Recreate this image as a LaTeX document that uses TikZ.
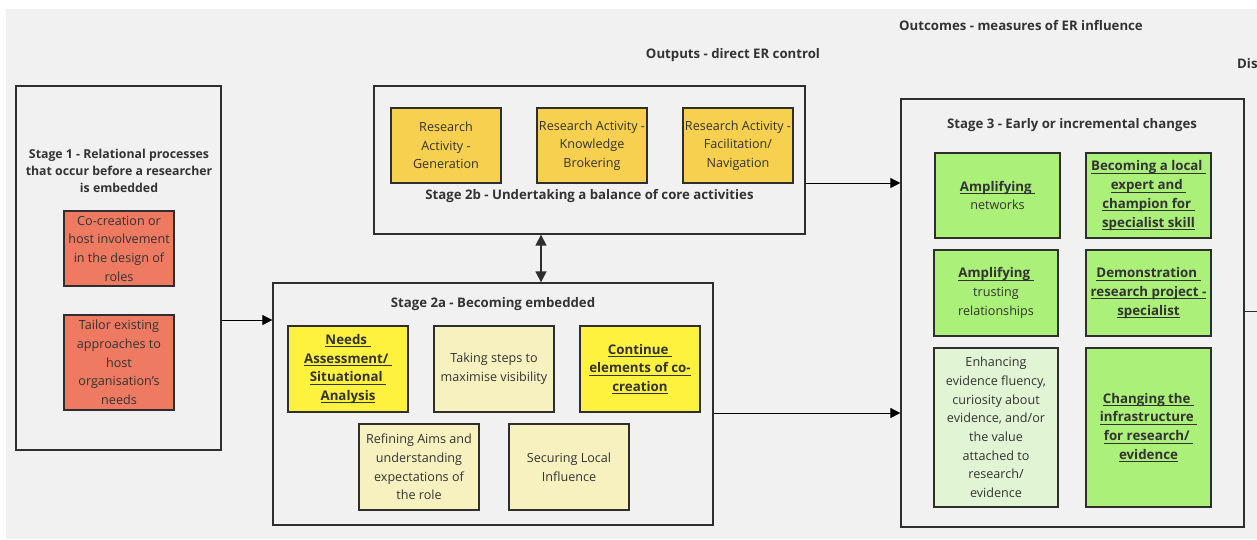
\documentclass[tikz,border=0pt]{standalone}
\usepackage{fontspec}
\setmainfont{Open Sans}
\newcommand\myul[1]{\leavevmode\setbox0\hbox{#1}\rlap{\rule[-2.6pt]{\wd0}{0.7pt}}\box0}
\usetikzlibrary{arrows.meta,calc}
\definecolor{bg}{HTML}{F1F1F1}
\definecolor{edge}{HTML}{2E2E2E}
\definecolor{ink}{HTML}{333333}
\definecolor{redc}{HTML}{EE7A62}
\definecolor{goldc}{HTML}{F6D04E}
\definecolor{yelc}{HTML}{FFF23F}
\definecolor{paley}{HTML}{F6F1BF}
\definecolor{greenc}{HTML}{ABF078}
\definecolor{paleg}{HTML}{E1F4D3}
\begin{document}
\begin{tikzpicture}[x=1pt,y=-1pt,
  container/.style={draw=edge,line width=1.3pt,fill=bg,inner sep=0pt},
  card/.style={draw=edge,line width=1.1pt,inner sep=0pt,align=center,
    font=\fontsize{12.6}{18.7}\selectfont,text=ink},
  boldcard/.style={card,font=\bfseries\fontsize{13.3}{18.7}\selectfont},
  ttl/.style={font=\bfseries\fontsize{13.2}{17}\selectfont,text=ink,align=center,inner sep=0pt},
  arr/.style={-{Triangle[length=10pt,width=10pt]},line width=0.8pt,black},
  dblarr/.style={{Triangle[length=11pt,width=11pt]}-{Triangle[length=11pt,width=11pt]},line width=1.4pt,edge},
]
\useasboundingbox (0,0) rectangle (1257,539);
\clip (0,0) rectangle (1257,539);
\fill[white] (0,0) rectangle (1257,539);
\fill[bg] (6,9) rectangle (1257,539);

% headings
\node[ttl] (outputs) at (733,55) {Outputs - direct ER control};
\node[ttl] (outcomes) at (1021,26) {Outcomes - measures of ER influence};
\node[ttl,anchor=west] (dis) at (1237,64) {Dis};

% Stage 1
\node[container,minimum width=205pt,minimum height=364pt] (s1) at (118.5,268) {};
\node[ttl,font=\bfseries\fontsize{12.3}{16.8}\selectfont] (s1t) at (119,171) {Stage 1 - Relational processes\\that occur before a researcher\\is embedded};
\node[card,fill=redc,minimum width=110pt,minimum height=75pt] (r1) at (119,248.5)
  {Co-creation or\\host involvement\\in the design of\\roles};
\node[card,fill=redc,minimum width=110pt,minimum height=95pt] (r2) at (119,362.5)
  {Tailor existing\\approaches to\\host\\organisation{\char"0027}s\\needs};

% Stage 2b
\node[container,minimum width=431pt,minimum height=148pt] (s2b) at (589.5,160) {};
\node[card,fill=goldc,minimum width=110pt,minimum height=75pt] (g1) at (446,145.5)
  {Research\\Activity -\\Generation};
\node[card,fill=goldc,minimum width=110pt,minimum height=75pt] (g2) at (592,145.5)
  {Research Activity -\\Knowledge\\Brokering};
\node[card,fill=goldc,minimum width=110pt,minimum height=75pt] (g3) at (738,145.5)
  {Research Activity -\\Facilitation/\\Navigation};
\node[ttl] (s2bt) at (589.5,196) {Stage 2b - Undertaking a balance of core activities};

% Stage 2a
\node[container,minimum width=440pt,minimum height=242pt] (s2a) at (493,404) {};
\node[ttl] (s2at) at (493,304) {Stage 2a - Becoming embedded};
\node[boldcard,fill=yelc,minimum width=120pt,minimum height=86pt] (n1) at (348,369)
  {\myul{Needs\ }\\\myul{Assessment/\ }\\\myul{Situational\ }\\\myul{Analysis}};
\node[card,fill=paley,minimum width=120pt,minimum height=86pt] (n2) at (494,369)
  {Taking steps to\\maximise visibility};
\node[boldcard,fill=yelc,minimum width=120pt,minimum height=86pt] (n3) at (640,369)
  {\myul{Continue\ }\\\myul{elements of co-}\\\myul{creation}};
\node[card,fill=paley,minimum width=120pt,minimum height=86pt] (n4) at (419,467)
  {Refining Aims and\\understanding\\expectations of\\the role};
\node[card,fill=paley,minimum width=120pt,minimum height=86pt] (n5) at (569,467)
  {Securing Local\\Influence};

% Stage 3
\node[container,minimum width=343pt,minimum height=428pt] (s3) at (1072.5,313) {};
\node[ttl] (s3t) at (1072,125) {Stage 3 - Early or incremental changes};
\node[card,fill=greenc,minimum width=125pt,minimum height=85pt] (a1) at (997.5,195.5)
  {{\bfseries\fontsize{13.3}{18.7}\selectfont\myul{Amplifying\ }}\\networks};
\node[boldcard,fill=greenc,minimum width=125pt,minimum height=85pt] (a2) at (1148.5,195.5)
  {\myul{Becoming a local\ }\\\myul{expert and\ }\\\myul{champion for\ }\\\myul{specialist skill}};
\node[card,fill=greenc,minimum width=124pt,minimum height=86pt] (a3) at (996,293)
  {{\bfseries\fontsize{13.3}{18.7}\selectfont\myul{Amplifying\ }}\\trusting\\relationships};
\node[boldcard,fill=greenc,minimum width=125pt,minimum height=86pt] (a4) at (1148.5,293)
  {\myul{Demonstration\ }\\\myul{research project -}\\\myul{specialist}};
\node[card,fill=paleg,minimum width=124pt,minimum height=159pt] (a5) at (996,427.5)
  {Enhancing\\evidence fluency,\\curiosity about\\evidence, and/or\\the value\\attached to\\research/\\evidence};
\node[boldcard,fill=greenc,minimum width=125pt,minimum height=159pt] (a6) at (1148.5,427.5)
  {\myul{Changing the\ }\\\myul{infrastructure\ }\\\myul{for research/\ }\\\myul{evidence}};

% connectors
\coordinate (y1) at (0,320);
\coordinate (y2) at (0,183);
\coordinate (y3) at (0,413);
\coordinate (xd) at (541,0);
\coordinate (offright) at (1257,311);
\draw[arr] (s1.east |- y1) -- (s2a.west |- y1);
\draw[arr] (s2b.east |- y2) -- (s3.west |- y2);
\draw[arr] (s2a.east |- y3) -- (s3.west |- y3);
\draw[dblarr] (s2b.south -| xd) -- (s2a.north -| xd);
\draw[line width=0.8pt,edge] (s3.east |- offright) -- (offright);
\end{tikzpicture}
\end{document}
